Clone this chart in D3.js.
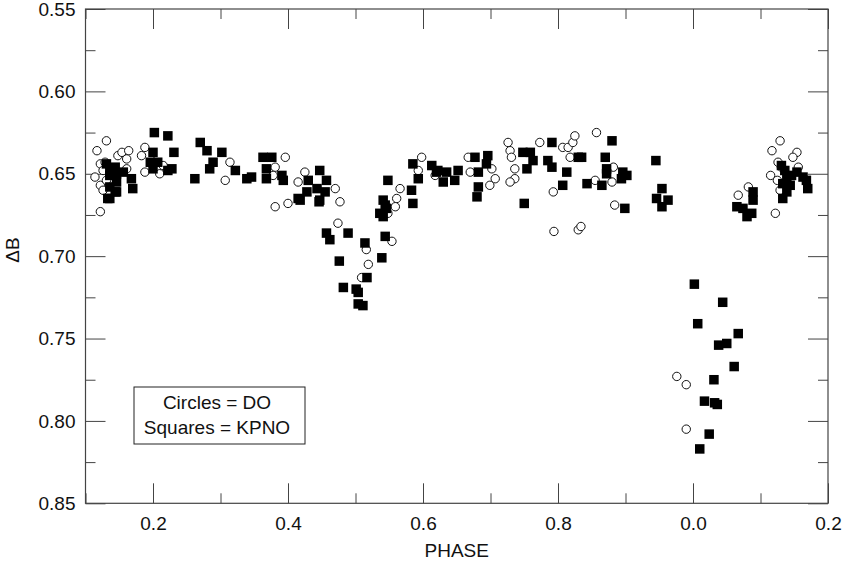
<!DOCTYPE html>
<html>
<head>
<meta charset="utf-8">
<script src="https://cdn.jsdelivr.net/npm/d3@7"></script>
<style>
    body { margin: 0; background: #fff; }
    text { font-family: "Liberation Sans", Arial, sans-serif; }
</style>
</head>
<body>
<div id="container"></div>
<script>
"use strict";

// DO observations (circles)
var doPhase = [
    0.131, 0.117, 0.148, 0.122, 0.126, 0.114, 0.122, 0.126, 0.122, 0.154,
    0.164, 0.161, 0.129, 0.131, 0.188, 0.183, 0.188, 0.210, 0.215, 0.161,
    0.314, 0.307, 0.381, 0.381, 0.378, 0.396, 0.425, 0.415, 0.470, 0.477,
    0.400, 0.566, 0.561, 0.559, 0.598, 0.593, 0.618, 0.548, 0.474, 0.554,
    0.516, 0.519, 0.509, 0.667, 0.670, 0.702, 0.707, 0.699, 0.726, 0.729,
    0.731, 0.736, 0.736, 0.729, 0.773, 0.807, 0.815, 0.822, 0.825, 0.818,
    0.793, 0.855, 0.857, 0.882, 0.880, 0.884, 0.794, 0.830, 0.834, 1.082,
    1.067, 1.129, 1.117, 1.154, 1.148, 1.126, 1.131, 1.156, 1.115, 1.125,
    1.129, 1.122, 1.141, 0.976, 0.990, 0.990
];
var doDelta = [
    0.630, 0.636, 0.639, 0.644, 0.648, 0.652, 0.657, 0.660, 0.673, 0.637,
    0.636, 0.641, 0.643, 0.654, 0.634, 0.639, 0.649, 0.650, 0.645, 0.647,
    0.643, 0.654, 0.670, 0.646, 0.651, 0.640, 0.649, 0.655, 0.659, 0.667,
    0.668, 0.659, 0.665, 0.670, 0.640, 0.648, 0.651, 0.674, 0.680, 0.691,
    0.696, 0.705, 0.713, 0.640, 0.649, 0.647, 0.653, 0.657, 0.631, 0.636,
    0.640, 0.647, 0.653, 0.655, 0.631, 0.634, 0.634, 0.631, 0.627, 0.640,
    0.661, 0.654, 0.625, 0.646, 0.655, 0.669, 0.685, 0.684, 0.682, 0.658,
    0.663, 0.630, 0.636, 0.637, 0.640, 0.643, 0.646, 0.646, 0.651, 0.654,
    0.660, 0.674, 0.651, 0.773, 0.778, 0.805
];

// KPNO observations (squares)
var kpnoPhase = [
    0.131, 0.144, 0.136, 0.136, 0.136, 0.144, 0.146, 0.136, 0.146, 0.156,
    0.168, 0.170, 0.146, 0.133, 0.202, 0.222, 0.231, 0.200, 0.196, 0.207,
    0.200, 0.222, 0.228, 0.262, 0.270, 0.280, 0.289, 0.302, 0.284, 0.322,
    0.339, 0.346, 0.363, 0.376, 0.368, 0.368, 0.391, 0.393, 0.447, 0.430,
    0.457, 0.443, 0.455, 0.428, 0.415, 0.447, 0.548, 0.583, 0.585, 0.541,
    0.546, 0.541, 0.585, 0.593, 0.613, 0.620, 0.418, 0.446, 0.544, 0.536,
    0.457, 0.462, 0.489, 0.514, 0.544, 0.539, 0.476, 0.517, 0.482, 0.501,
    0.504, 0.504, 0.511,
    0.622, 0.635, 0.652, 0.647, 0.630, 0.677, 0.682, 0.696, 0.694, 0.682,
    0.680, 0.748, 0.759, 0.763, 0.754, 0.785, 0.791, 0.791, 0.813, 0.807,
    0.830, 0.843, 0.750, 0.880, 0.835, 0.870, 0.872, 0.872, 0.896, 0.902,
    0.894, 0.865, 0.899, 0.945, 0.954, 0.946, 0.963, 0.954, 1.065, 1.074,
    1.089, 1.089, 1.087, 1.080, 1.131, 1.136, 1.139, 1.146, 1.154, 1.163,
    1.168, 1.170, 1.133, 1.144, 1.139, 1.133, 1.002, 1.044, 1.007, 1.067,
    1.038, 1.050, 1.061, 1.031, 1.017, 1.032, 1.036, 1.024, 1.010
];
var kpnoDelta = [
    0.644, 0.646, 0.651, 0.658, 0.665, 0.661, 0.655, 0.649, 0.650, 0.649,
    0.653, 0.659, 0.661, 0.665, 0.625, 0.627, 0.637, 0.637, 0.643, 0.643,
    0.647, 0.648, 0.647, 0.653, 0.631, 0.636, 0.643, 0.637, 0.647, 0.648,
    0.653, 0.652, 0.640, 0.640, 0.647, 0.653, 0.651, 0.654, 0.648, 0.654,
    0.654, 0.659, 0.661, 0.661, 0.665, 0.666, 0.654, 0.660, 0.668, 0.666,
    0.671, 0.676, 0.644, 0.653, 0.645, 0.649, 0.666, 0.667, 0.669, 0.674,
    0.686, 0.690, 0.686, 0.692, 0.688, 0.701, 0.703, 0.713, 0.719, 0.720,
    0.722, 0.729, 0.730,
    0.648, 0.649, 0.648, 0.654, 0.655, 0.640, 0.649, 0.639, 0.644, 0.658,
    0.664, 0.637, 0.637, 0.642, 0.647, 0.642, 0.646, 0.631, 0.649, 0.657,
    0.640, 0.656, 0.668, 0.630, 0.640, 0.640, 0.647, 0.650, 0.649, 0.651,
    0.653, 0.657, 0.671, 0.642, 0.659, 0.665, 0.666, 0.670, 0.670, 0.671,
    0.661, 0.666, 0.674, 0.676, 0.645, 0.648, 0.652, 0.651, 0.649, 0.652,
    0.654, 0.659, 0.656, 0.657, 0.661, 0.665, 0.717, 0.728, 0.741, 0.747,
    0.754, 0.753, 0.767, 0.775, 0.788, 0.789, 0.790, 0.808, 0.817
];

var xMajor = [0.2, 0.4, 0.6, 0.8, 1.0, 1.2],
    xMinor = [0.1, 0.3, 0.5, 0.7, 0.9, 1.1],
    yMajor = [0.55, 0.60, 0.65, 0.70, 0.75, 0.80, 0.85],
    yMinor = [0.575, 0.625, 0.675, 0.725, 0.775, 0.825];

var legendLines = ["Circles = DO", "Squares = KPNO"];

var width = 845,
    height = 561;

var plot = { left: 85.5, right: 828, top: 9, bottom: 503.3 };

var x = d3.scaleLinear().domain([0.1, 1.2]).range([plot.left, plot.right]),
    y = d3.scaleLinear().domain([0.55, 0.85]).range([plot.top, plot.bottom]);

var svg = d3.select("#container").append("svg")
    .attr("width", width)
    .attr("height", height)
    .style("background-color", "#fff");

var axisColor = "#444";

// phase wraps past 1.0
var phaseFormat = function(d) {
    return d3.format(".1f")(d % 1 + 1e-9);
};

function styleAxis(g) {
    g.select(".domain").remove();
    g.selectAll(".tick line").attr("stroke", axisColor);
    g.selectAll(".tick text")
        .attr("fill", "#111")
        .style("font-size", "19px")
        .style("font-family", "'Liberation Sans', Arial, sans-serif");
}

// bottom
svg.append("g")
    .attr("transform", "translate(0," + plot.bottom + ")")
    .call(d3.axisBottom(x).tickValues(xMajor).tickSize(-20).tickPadding(13).tickFormat(phaseFormat))
    .call(styleAxis);
svg.append("g")
    .attr("transform", "translate(0," + plot.bottom + ")")
    .call(d3.axisBottom(x).tickValues(xMinor).tickSize(-10).tickFormat(""))
    .call(styleAxis);

// top
svg.append("g")
    .attr("transform", "translate(0," + plot.top + ")")
    .call(d3.axisTop(x).tickValues(xMajor).tickSize(-20).tickFormat(""))
    .call(styleAxis);
svg.append("g")
    .attr("transform", "translate(0," + plot.top + ")")
    .call(d3.axisTop(x).tickValues(xMinor).tickSize(-10).tickFormat(""))
    .call(styleAxis);

// left
svg.append("g")
    .attr("transform", "translate(" + plot.left + ",0)")
    .call(d3.axisLeft(y).tickValues(yMajor).tickSize(-20).tickPadding(10).tickFormat(d3.format(".2f")))
    .call(styleAxis);
svg.append("g")
    .attr("transform", "translate(" + plot.left + ",0)")
    .call(d3.axisLeft(y).tickValues(yMinor).tickSize(-10).tickFormat(""))
    .call(styleAxis);

// right
svg.append("g")
    .attr("transform", "translate(" + plot.right + ",0)")
    .call(d3.axisRight(y).tickValues(yMajor).tickSize(-20).tickFormat(""))
    .call(styleAxis);
svg.append("g")
    .attr("transform", "translate(" + plot.right + ",0)")
    .call(d3.axisRight(y).tickValues(yMinor).tickSize(-10).tickFormat(""))
    .call(styleAxis);

// frame
svg.append("rect")
    .attr("x", plot.left)
    .attr("y", plot.top)
    .attr("width", plot.right - plot.left)
    .attr("height", plot.bottom - plot.top)
    .attr("fill", "none")
    .attr("stroke", axisColor)
    .attr("stroke-width", 1.2);

// axis titles
svg.append("text")
    .attr("x", (plot.left + plot.right) / 2)
    .attr("y", 557)
    .attr("text-anchor", "middle")
    .style("font-size", "19px")
    .attr("fill", "#111")
    .text("PHASE");

svg.append("text")
    .attr("transform", "translate(19," + 250 + ") rotate(-90)")
    .attr("text-anchor", "middle")
    .style("font-size", "19px")
    .attr("fill", "#111")
    .text("\u0394B");

// data
var doData = doPhase.map(function(p, i) { return { phase: p, delta: doDelta[i] }; });
var kpnoData = kpnoPhase.map(function(p, i) { return { phase: p, delta: kpnoDelta[i] }; });

svg.selectAll(".do")
    .data(doData)
    .enter().append("circle")
        .attr("class", "do")
        .attr("cx", function(d) { return x(d.phase); })
        .attr("cy", function(d) { return y(d.delta); })
        .attr("r", 4.2)
        .attr("fill", "#fff")
        .attr("stroke", "#111")
        .attr("stroke-width", 1);

var sq = 9.5;
svg.selectAll(".kpno")
    .data(kpnoData)
    .enter().append("rect")
        .attr("class", "kpno")
        .attr("x", function(d) { return x(d.phase) - sq / 2; })
        .attr("y", function(d) { return y(d.delta) - sq / 2; })
        .attr("width", sq)
        .attr("height", sq)
        .attr("fill", "#000");

// legend box
var legend = svg.append("g");
legend.append("rect")
    .attr("x", 134)
    .attr("y", 387)
    .attr("width", 171)
    .attr("height", 57)
    .attr("fill", "#fff")
    .attr("stroke", "#222")
    .attr("stroke-width", 1);

legend.selectAll("text")
    .data(legendLines)
    .enter().append("text")
        .attr("x", 217)
        .attr("y", function(d, i) { return 409 + i * 25; })
        .attr("text-anchor", "middle")
        .style("font-size", "19px")
        .attr("fill", "#111")
        .text(function(d) { return d; });
</script>
</body>
</html>
